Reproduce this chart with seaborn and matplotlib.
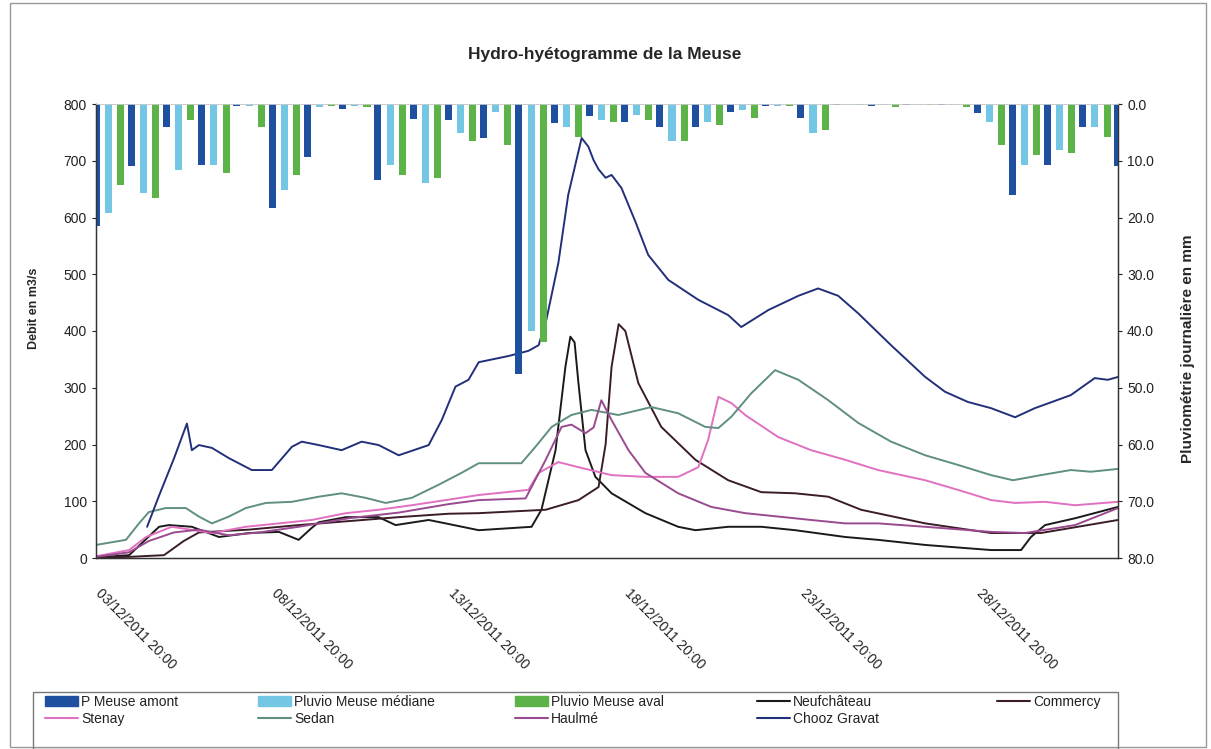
import pandas as pd
import seaborn as sns
import matplotlib.pyplot as plt
from matplotlib.patches import Rectangle, Patch
from matplotlib.lines import Line2D
from matplotlib.transforms import ScaledTranslation

# daily rainfall (mm), one group of bars per day from 03/12/2011 20:00
rain_day = list(range(30))
p_amont = [21.5, 11.0, 4.0, 10.7, 0.3, 18.3, 9.3, 0.8, 13.4, 2.6, 2.8, 6.0, 47.5, 3.3, 2.2,
           3.1, 4.0, 4.0, 1.4, 0.3, 2.4, 0.2, 0.3, 0.1, 0.2, 1.6, 16.0, 10.7, 4.0, 11.0]
p_mediane = [19.2, 15.7, 11.6, 10.7, 0.3, 15.2, 0.5, 0.3, 10.7, 13.9, 5.1, 1.4, 40.0, 4.0, 2.8,
             1.9, 6.6, 3.1, 1.1, 0.3, 5.1, 0.2, 0.2, 0.1, 0.2, 3.1, 10.7, 8.1, 4.0, 0.0]
p_aval = [14.3, 16.6, 2.8, 12.2, 4.0, 12.5, 0.3, 0.5, 12.5, 13.1, 6.6, 7.2, 42.0, 5.8, 3.1,
          2.8, 6.6, 3.7, 2.5, 0.3, 4.6, 0.2, 0.5, 0.1, 0.5, 7.2, 9.0, 8.7, 5.8, 0.0]

# flows (m3/s) : time in days since 03/12/2011 20:00
chooz_t = [1.45, 1.79, 2.21, 2.58, 2.72, 2.92, 3.29, 3.77, 4.42, 4.99, 5.56, 5.84, 6.32, 6.97, 7.54,
           8.02, 8.59, 9.44, 9.81, 10.2, 10.57, 10.86, 11.71, 12.27, 12.56, 12.78, 13.12, 13.4, 13.78,
           13.97, 14.12, 14.26, 14.46, 14.63, 14.91, 15.31, 15.67, 16.24, 17.09, 17.94, 18.31, 19.08,
           19.93, 20.49, 21.06, 21.63, 22.56, 23.53, 24.09, 24.74, 25.4, 26.08, 26.64, 27.66, 28.34,
           28.71, 29.0]
chooz_q = [55, 110, 175, 237, 190, 199, 194, 176, 155, 155, 196, 205, 199, 190, 205, 199, 181, 199,
           243, 302, 314, 345, 356, 365, 375, 420, 520, 640, 740, 725, 701, 685, 670, 675, 652, 592,
           534, 490, 455, 428, 407, 437, 462, 475, 462, 431, 375, 319, 293, 275, 264, 248, 264, 287,
           317, 314, 319]

sedan_t = [0, 0.85, 1.22, 1.5, 1.98, 2.55, 2.92, 3.29, 3.77, 4.25, 4.82, 5.56, 6.32, 6.97, 7.65, 8.22,
           8.96, 9.72, 10.37, 10.86, 12.07, 12.47, 12.93, 13.49, 14.06, 14.82, 15.76, 16.52, 17.29,
           17.66, 18.03, 18.59, 19.27, 19.93, 20.78, 21.63, 22.56, 23.53, 24.46, 25.4, 26.02, 26.81,
           27.66, 28.23, 29.0]
sedan_q = [23, 32, 61, 81, 88, 88, 73, 61, 73, 88, 97, 99, 108, 114, 106, 97, 106, 129, 150, 167,
           167, 196, 231, 252, 261, 252, 266, 255, 231, 229, 249, 290, 331, 314, 278, 238, 205, 181,
           164, 146, 137, 146, 155, 152, 157]

stenay_t = [0, 0.94, 1.42, 2.15, 3.29, 4.25, 5.19, 6.12, 7.09, 8.02, 8.96, 9.92, 10.86, 12.27, 12.56,
            13.12, 13.69, 14.63, 15.59, 16.52, 17.09, 17.37, 17.66, 18.03, 18.42, 19.36, 20.29, 21.26,
            22.19, 23.53, 24.46, 25.4, 26.08, 26.93, 27.78, 29.0]
stenay_q = [3, 14, 37, 55, 44, 55, 61, 67, 79, 85, 93, 102, 111, 120, 150, 169, 160, 146, 143, 143,
            160, 208, 284, 273, 252, 213, 190, 173, 155, 137, 120, 102, 97, 99, 93, 99]

haulme_t = [0, 0.94, 1.5, 2.21, 2.92, 3.77, 4.62, 5.75, 7.17, 8.59, 10.01, 10.86, 12.19, 12.76, 13.21,
            13.49, 13.89, 14.12, 14.34, 14.63, 15.11, 15.59, 16.52, 17.46, 18.42, 19.36, 20.29, 21.26,
            22.19, 23.53, 25.4, 26.36, 27.78, 29.0]
haulme_q = [2, 10, 30, 45, 50, 40, 45, 55, 70, 80, 95, 102, 105, 173, 231, 235, 220, 230, 278, 243,
            190, 150, 114, 90, 79, 73, 67, 61, 61, 55, 46, 44, 58, 88]

neuf_t = [0, 0.94, 1.79, 2.07, 2.72, 3.49, 4.34, 5.19, 5.75, 6.12, 6.32, 7.09, 8.02, 8.5, 9.44, 9.92,
          10.86, 12.36, 12.64, 13.04, 13.32, 13.46, 13.58, 13.69, 13.89, 14.17, 14.63, 15.59, 16.52,
          17.01, 17.94, 18.88, 19.84, 21.26, 22.19, 23.53, 25.4, 26.25, 26.53, 26.93, 27.78, 29.0]
neuf_q = [1, 5, 55, 58, 55, 37, 44, 46, 32, 53, 63, 72, 72, 58, 67, 61, 49, 55, 85, 190, 337, 390,
          380, 308, 190, 143, 114, 79, 55, 49, 55, 55, 49, 37, 32, 23, 14, 14, 37, 58, 70, 90]

commercy_t = [0, 0.94, 1.93, 2.49, 2.92, 4.34, 5.75, 7.17, 8.59, 10.01, 10.86, 12.76, 13.69, 14.26,
              14.46, 14.63, 14.83, 15.02, 15.39, 16.04, 17.01, 17.94, 18.88, 19.84, 20.78, 21.71,
              23.53, 25.4, 26.81, 27.86, 29.0]
commercy_q = [1, 2, 5, 30, 45, 50, 58, 65, 72, 78, 79, 85, 102, 125, 200, 337, 412, 400, 308, 231,
              173, 137, 116, 114, 108, 85, 61, 44, 44, 55, 67]

tick_days = [0, 5, 10, 15, 20, 25]
tick_labels = ["03/12/2011 20:00", "08/12/2011 20:00", "13/12/2011 20:00",
               "18/12/2011 20:00", "23/12/2011 20:00", "28/12/2011 20:00"]

rain_names = ["P Meuse amont", "Pluvio Meuse médiane", "Pluvio Meuse aval"]
rain_colors = ["#1f4f9f", "#73c6e4", "#5cb347"]
line_colors = {"Neufchâteau": "#1a1a1a", "Commercy": "#3b1d27", "Stenay": "#e070c0",
               "Sedan": "#5f8f80", "Haulmé": "#9a4a8e", "Chooz Gravat": "#22307a"}

series = [("Neufchâteau", neuf_t, neuf_q), ("Commercy", commercy_t, commercy_q),
          ("Stenay", stenay_t, stenay_q), ("Sedan", sedan_t, sedan_q),
          ("Haulmé", haulme_t, haulme_q), ("Chooz Gravat", chooz_t, chooz_q)]
df = pd.concat([pd.DataFrame({"jour": t, "debit": q, "station": name}) for name, t, q in series],
               ignore_index=True)

sns.set_style("white")
plt.rcParams["font.family"] = ["Liberation Sans", "DejaVu Sans"]

W, H = 1211, 749
fig = plt.figure(figsize=(W / 100, H / 100), dpi=100)
fig.subplots_adjust(left=96 / W, right=1118 / W, bottom=1 - 558 / H, top=1 - 104 / H)
ax = fig.add_subplot(111)

sns.lineplot(data=df, x="jour", y="debit", hue="station", palette=line_colors,
             estimator=None, sort=False, linewidth=1.4, legend=False, ax=ax)

ax2 = ax.twinx()
offsets = [0.0, 0.345, 0.69]
for vals, off, col in zip([p_amont, p_mediane, p_aval], offsets, rain_colors):
    ax2.bar([d + off for d in rain_day], vals, width=0.2, color=col, linewidth=0)

ax.set_xlim(0, 29)
ax.set_ylim(0, 800)
ax.set_yticks(range(0, 801, 100))
ax2.set_ylim(80, 0)
ax2.set_yticks(range(0, 81, 10))
ax2.set_yticklabels([f"{v:.1f}" for v in range(0, 81, 10)])

# date labels, slanted downwards and starting just below each tick
ax.set_xticks(tick_days)
ax.set_xticklabels([])
shift = ax.get_xaxis_transform() + ScaledTranslation(0.07, -0.28, fig.dpi_scale_trans)
for d, lab in zip(tick_days, tick_labels):
    ax.text(d, 0, lab, transform=shift, rotation=-45, rotation_mode="anchor",
            ha="left", va="top", fontsize=10, color="#222222")

ax.set_xlabel("")
ax.set_ylabel("Debit en m3/s", fontsize=9, fontweight="bold")
ax.yaxis.set_label_coords(-0.055, 0.55)
ax2.set_ylabel("Pluviométrie journalière en mm", fontsize=11, fontweight="bold")
ax2.yaxis.set_label_coords(1.062, 0.46)

for a in (ax, ax2):
    a.tick_params(axis="both", labelsize=10, colors="#222222", length=3, width=0.8,
                  direction="out")
    for s in a.spines.values():
        s.set_color("#333333")
        s.set_linewidth(0.9)
    a.spines["top"].set_color("#cccccc")
    a.spines["top"].set_linewidth(0.6)
ax.tick_params(axis="y", left=True)
ax2.tick_params(axis="y", right=True)

fig.text(605 / W, 1 - 55 / H, "Hydro-hyétogramme de la Meuse", ha="center", va="center",
         fontsize=12.5, fontweight="bold")

# outer frame and legend frame
fig.patches.append(Rectangle((10 / W, 2 / H), 1196 / W, 744 / H, transform=fig.transFigure,
                             fill=False, edgecolor="#999999", linewidth=1))
fig.patches.append(Rectangle((33 / W, 0), (1118 - 33) / W, (749 - 692) / H,
                             transform=fig.transFigure, fill=False, edgecolor="#777777",
                             linewidth=1))

# legend, one block per column
columns = [
    (45, [Patch(color=rain_colors[0]), Line2D([], [], color=line_colors["Stenay"], lw=1.5)],
     [rain_names[0], "Stenay"]),
    (258, [Patch(color=rain_colors[1]), Line2D([], [], color=line_colors["Sedan"], lw=1.5)],
     [rain_names[1], "Sedan"]),
    (515, [Patch(color=rain_colors[2]), Line2D([], [], color=line_colors["Haulmé"], lw=1.5)],
     [rain_names[2], "Haulmé"]),
    (757, [Line2D([], [], color=line_colors["Neufchâteau"], lw=1.5),
           Line2D([], [], color=line_colors["Chooz Gravat"], lw=1.5)],
     ["Neufchâteau", "Chooz Gravat"]),
    (997, [Line2D([], [], color=line_colors["Commercy"], lw=1.5)], ["Commercy"]),
]
for xpx, handles, labels in columns:
    leg = fig.legend(handles, labels, loc="upper left", bbox_to_anchor=(xpx / W, 1 - 695 / H),
                     frameon=False, fontsize=10, handlelength=2.4, handletextpad=0.2,
                     labelspacing=0.2, borderpad=0, borderaxespad=0)
    for t in leg.get_texts():
        t.set_color("#222222")

fig.savefig("out.png", dpi=100)
